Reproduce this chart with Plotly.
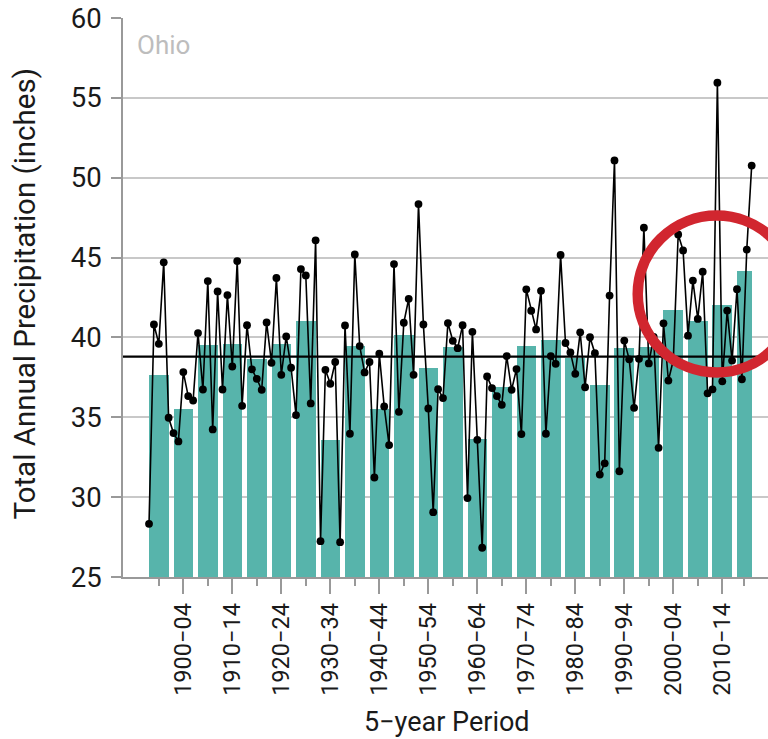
import plotly.graph_objects as go

# ---------------- data ----------------
years = list(range(1895, 2019))
precip = [
    28.33, 40.81, 39.60, 44.70, 34.97,   # 1895-99
    34.01, 33.49, 37.83, 36.33, 36.05,   # 1900-04
    40.27, 36.74, 43.53, 34.24, 42.88,   # 1905-09
    36.74, 42.65, 38.18, 44.78, 35.72,   # 1910-14
    40.77, 38.00, 37.41, 36.72, 40.94,   # 1915-19
    38.41, 43.72, 37.66, 40.06, 38.10,   # 1920-24
    35.14, 44.28, 43.88, 35.87, 46.08,   # 1925-29
    27.24, 37.97, 37.10, 38.46, 27.18,   # 1930-34
    40.75, 33.97, 45.20, 39.46, 37.81,   # 1935-39
    38.46, 31.23, 38.98, 35.68, 33.26,   # 1940-44
    44.59, 35.34, 40.92, 42.42, 37.66,   # 1945-49
    48.35, 40.81, 35.55, 29.06, 36.76,   # 1950-54
    36.20, 40.90, 39.79, 39.33, 40.77,   # 1955-59
    29.94, 40.35, 33.59, 26.83, 37.56,   # 1960-64
    36.83, 36.33, 35.78, 38.83, 36.72,   # 1965-69
    38.02, 33.95, 43.01, 41.67, 40.50,   # 1970-74
    42.92, 33.97, 38.83, 38.35, 45.16,   # 1975-79
    39.65, 39.06, 37.72, 40.32, 36.88,   # 1980-84
    40.01, 39.01, 31.41, 32.12, 42.62,   # 1985-89
    51.08, 31.62, 39.80, 38.63, 35.59,   # 1990-94
    38.66, 46.87, 38.37, 40.03, 33.09,   # 1995-99
    40.88, 37.30, 38.57, 46.45, 45.45,   # 2000-04
    40.11, 43.56, 41.16, 44.12, 36.50,   # 2005-09
    36.75, 55.95, 37.25, 41.68, 38.55,   # 2010-14
    43.02, 37.38, 45.50, 50.76,          # 2015-18
]

period_start = list(range(1895, 2016, 5))
period_labels = [f"{s}\u2212{(s + 4) % 100:02d}" for s in period_start]
period_means = [
    37.66, 35.53, 39.50, 39.60, 38.68, 39.58, 41.02, 33.55, 39.44, 35.51,
    40.17, 38.10, 39.39, 33.65, 36.89, 39.44, 39.81, 38.73, 37.05, 39.34,
    39.38, 41.72, 41.05, 42.04, 44.14,
]
long_term_mean = 38.8

state_name = "Ohio"
y_title = "Total Annual Precipitation (inches)"
x_title = "5\u2212year Period"

# highlight circle (data coordinates: year centre, value centre, radii)
circle_center = (2010.86, 42.72)
circle_radius = (16.12, 4.91)

# ---------------- derived geometry ----------------
period_end = [min(s + 4, years[-1]) for s in period_start]
bar_x = [(s + e) / 2 for s, e in zip(period_start, period_end)]
bar_w = [e - s for s, e in zip(period_start, period_end)]

x_range = [1889.69, 2021.33]
y_range = [25, 60]

major_vals = bar_x[1::2]
major_text = period_labels[1::2]

FONT = "Roboto"
TXT = "#1a1a1a"
BAR = "#57b4ab"
RED = "#d1262f"
AXC = "#999999"

fig = go.Figure()

fig.add_trace(go.Bar(
    x=bar_x, y=period_means, width=bar_w,
    base=0, marker=dict(color=BAR, line=dict(width=0)),
    hoverinfo="skip", showlegend=False,
))

fig.add_trace(go.Scatter(
    x=x_range, y=[long_term_mean, long_term_mean], mode="lines",
    line=dict(color="black", width=2.3), hoverinfo="skip", showlegend=False,
))

fig.add_trace(go.Scatter(
    x=years, y=precip, mode="lines+markers",
    line=dict(color="black", width=1.6),
    marker=dict(color="black", size=7.8),
    showlegend=False, cliponaxis=False,
))

fig.add_shape(
    type="circle", xref="x", yref="y", layer="above",
    x0=circle_center[0] - circle_radius[0], x1=circle_center[0] + circle_radius[0],
    y0=circle_center[1] - circle_radius[1], y1=circle_center[1] + circle_radius[1],
    line=dict(color=RED, width=10.5),
)

fig.update_layout(
    width=768, height=739,
    margin=dict(l=123, r=0, t=18, b=162, pad=0),
    paper_bgcolor="white", plot_bgcolor="white",
    font=dict(family=FONT, color=TXT, size=24),
    bargap=0,
    xaxis=dict(
        range=x_range, showgrid=False, zeroline=False,
        showline=True, linecolor=AXC, linewidth=1.5,
        tickmode="array", tickvals=major_vals, ticktext=major_text,
        ticks="outside", ticklen=15, tickcolor=AXC, tickwidth=1.5,
        tickangle=-90, tickfont=dict(family=FONT, size=23.5, color=TXT),
        minor=dict(tickmode="array", tickvals=bar_x, ticks="outside",
                   ticklen=7, tickcolor=AXC, tickwidth=1.5, showgrid=False),
        fixedrange=True,
    ),
    yaxis=dict(
        range=y_range, tickmode="linear", tick0=25, dtick=5,
        showgrid=True, gridcolor="#c8c8c8", gridwidth=1.5, zeroline=False,
        showline=True, linecolor=AXC, linewidth=1.5,
        ticks="outside", ticklen=10, tickcolor=AXC, tickwidth=1.5,
        ticklabelstandoff=4,
        tickfont=dict(family=FONT, size=27.5, color=TXT),
        fixedrange=True,
    ),
    annotations=[
        dict(text=state_name, xref="paper", yref="paper", x=0.019, y=0.951,
             xanchor="left", yanchor="middle", showarrow=False,
             font=dict(family=FONT, size=26, color="#bdbdbd")),
        dict(text=y_title, xref="paper", yref="paper", x=-0.152, y=0.507,
             xanchor="center", yanchor="middle", showarrow=False, textangle=-90,
             font=dict(family=FONT, size=29.5, color=TXT)),
        dict(text=x_title, xref="paper", yref="paper", x=0.503, y=-0.2585,
             xanchor="center", yanchor="middle", showarrow=False,
             font=dict(family=FONT, size=27, color=TXT)),
    ],
)

fig.write_html("out.html")
